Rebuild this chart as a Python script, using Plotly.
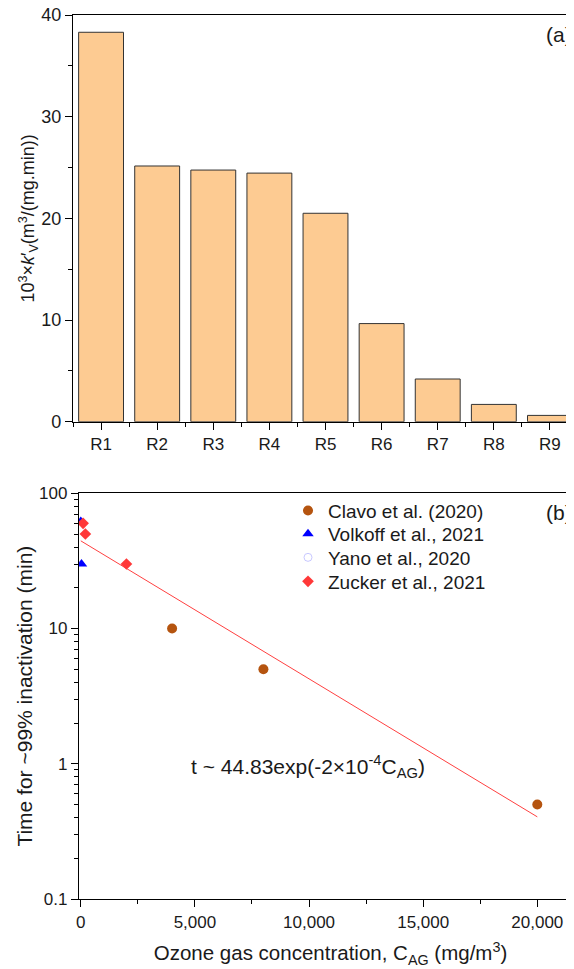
import plotly.graph_objects as go

# ---- Panel (a) data ----
reactors = ["R1", "R2", "R3", "R4", "R5", "R6", "R7", "R8", "R9"]
kv_values = [38.3, 25.15, 24.75, 24.45, 20.5, 9.65, 4.2, 1.7, 0.62]

# ---- Panel (b) data ----
clavo_x = [4000, 8000, 20000]
clavo_y = [10, 5, 0.5]
volkoff_x = [0, 30]
volkoff_y = [62, 30]
yano_x = [None]
yano_y = [None]
zucker_x = [100, 200, 2000]
zucker_y = [60, 50, 30]
fit_x = [0, 20000]
fit_y = [44.5, 0.405]

FONT = "Arial, Liberation Sans, sans-serif"
TXT = "#1a1a1a"
W, H = 574, 969
OFF = 8  # default page body margin


def px_y(p):
    return 1 - (p - OFF) / H


def px_x(p):
    return (p - OFF) / W


fig = go.Figure()

pos = list(range(1, len(reactors) + 1))
fig.add_trace(go.Bar(
    x=pos, y=kv_values, width=0.8,
    marker=dict(color="#FDCB92", line=dict(color="#333333", width=1)),
    showlegend=False, xaxis="x", yaxis="y",
))

fig.add_trace(go.Scatter(
    x=fit_x, y=fit_y, mode="lines", line=dict(color="#FF4040", width=1),
    showlegend=False, xaxis="x2", yaxis="y2",
))
fig.add_trace(go.Scatter(
    x=clavo_x, y=clavo_y, mode="markers", name="Clavo et al. (2020)",
    marker=dict(symbol="circle", size=10, color="#B5540F"),
    xaxis="x2", yaxis="y2", legend="legend",
))
fig.add_trace(go.Scatter(
    x=volkoff_x, y=volkoff_y, mode="markers", name="Volkoff et al., 2021",
    marker=dict(symbol="triangle-up", size=10, color="#0000FF"),
    xaxis="x2", yaxis="y2", legend="legend2",
))
fig.add_trace(go.Scatter(
    x=yano_x, y=yano_y, mode="markers", name="Yano et al., 2020",
    marker=dict(symbol="circle-open", size=8, color="#C8C8FF", line=dict(width=1)),
    xaxis="x2", yaxis="y2", legend="legend3",
))
fig.add_trace(go.Scatter(
    x=zucker_x, y=zucker_y, mode="markers", name="Zucker et al., 2021",
    marker=dict(symbol="diamond", size=9, color="#FF3838"),
    xaxis="x2", yaxis="y2", legend="legend4",
))

axis_common = dict(
    showline=True, linecolor="black", linewidth=1.3, mirror=True,
    ticks="outside", tickcolor="black", tickwidth=1.3,
    showgrid=False, zeroline=False, automargin=False,
    ticklabeloverflow="allow",
    tickfont=dict(family=FONT, size=17, color=TXT),
)
minor_common = dict(ticks="outside", ticklen=4, tickcolor="black", tickwidth=1.3)


def legend_at(row_center):
    return dict(
        x=px_x(288), y=px_y(row_center), xanchor="left", yanchor="middle",
        bgcolor="rgba(0,0,0,0)", font=dict(family=FONT, size=19, color=TXT),
    )


fig.update_layout(
    width=W, height=H,
    margin=dict(l=0, r=0, t=0, b=0),
    paper_bgcolor="white", plot_bgcolor="white",
    font=dict(family=FONT, size=17, color=TXT),
    xaxis=dict(
        axis_common, domain=[px_x(73), px_x(578)], anchor="y",
        range=[0.5, 9.5], tickvals=pos, ticktext=reactors, ticklen=7,
        minor=dict(minor_common, tickvals=[p + 0.5 for p in pos[:-1]] + [0.5]),
    ),
    yaxis=dict(
        axis_common, domain=[px_y(421.7), px_y(15)], anchor="x",
        range=[0, 40], tickvals=[0, 10, 20, 30, 40], ticklen=7,
        tickfont=dict(family=FONT, size=18, color=TXT),
        minor=dict(minor_common, tickvals=[5, 15, 25, 35]),
        title=dict(text="10<sup>3</sup>×<i>k</i>′<sub>V</sub>(m<sup>3</sup>/(mg.min))",
                   font=dict(family=FONT, size=18, color=TXT), standoff=0),
    ),
    xaxis2=dict(
        axis_common, domain=[px_x(79), 1], anchor="y2",
        range=[-79, 21958], tickvals=[0, 5000, 10000, 15000, 20000],
        ticktext=["0", "5,000", "10,000", "15,000", "20,000"], ticklen=7,
        minor=dict(minor_common, tickvals=[2500, 7500, 12500, 17500]),
        title=dict(text="Ozone gas concentration, C<sub>AG</sub> (mg/m<sup>3</sup>)",
                   font=dict(family=FONT, size=20.5, color=TXT), standoff=15),
    ),
    yaxis2=dict(
        axis_common, domain=[px_y(899), px_y(493.3)], anchor="x2",
        type="log", range=[-1, 2], tickvals=[0.1, 1, 10, 100],
        ticktext=["0.1", "1", "10", "100"], ticklen=7,
        minor=dict(minor_common,
                   tickvals=[m * d for d in (0.1, 1, 10) for m in range(2, 10)]),
        title=dict(text="Time for ~99% inactivation (min)",
                   font=dict(family=FONT, size=21, color=TXT), standoff=0),
    ),
    legend=legend_at(510.7),
    legend2=legend_at(534),
    legend3=legend_at(557.5),
    legend4=legend_at(581.5),
    annotations=[
        dict(text="(a)", xref="paper", yref="paper", x=px_x(574), y=px_y(34),
             xanchor="right", yanchor="middle", showarrow=False,
             font=dict(family=FONT, size=21, color=TXT)),
        dict(text="(b)", xref="paper", yref="paper", x=px_x(574), y=px_y(512),
             xanchor="right", yanchor="middle", showarrow=False,
             font=dict(family=FONT, size=21, color=TXT)),
        dict(text="t ~ 44.83exp(-2×10<sup>-4</sup>C<sub>AG</sub>)", xref="paper", yref="paper",
             x=px_x(189), y=px_y(766), xanchor="left", yanchor="middle", showarrow=False,
             font=dict(family=FONT, size=21, color=TXT)),
    ],
)

fig.write_html("out.html")
